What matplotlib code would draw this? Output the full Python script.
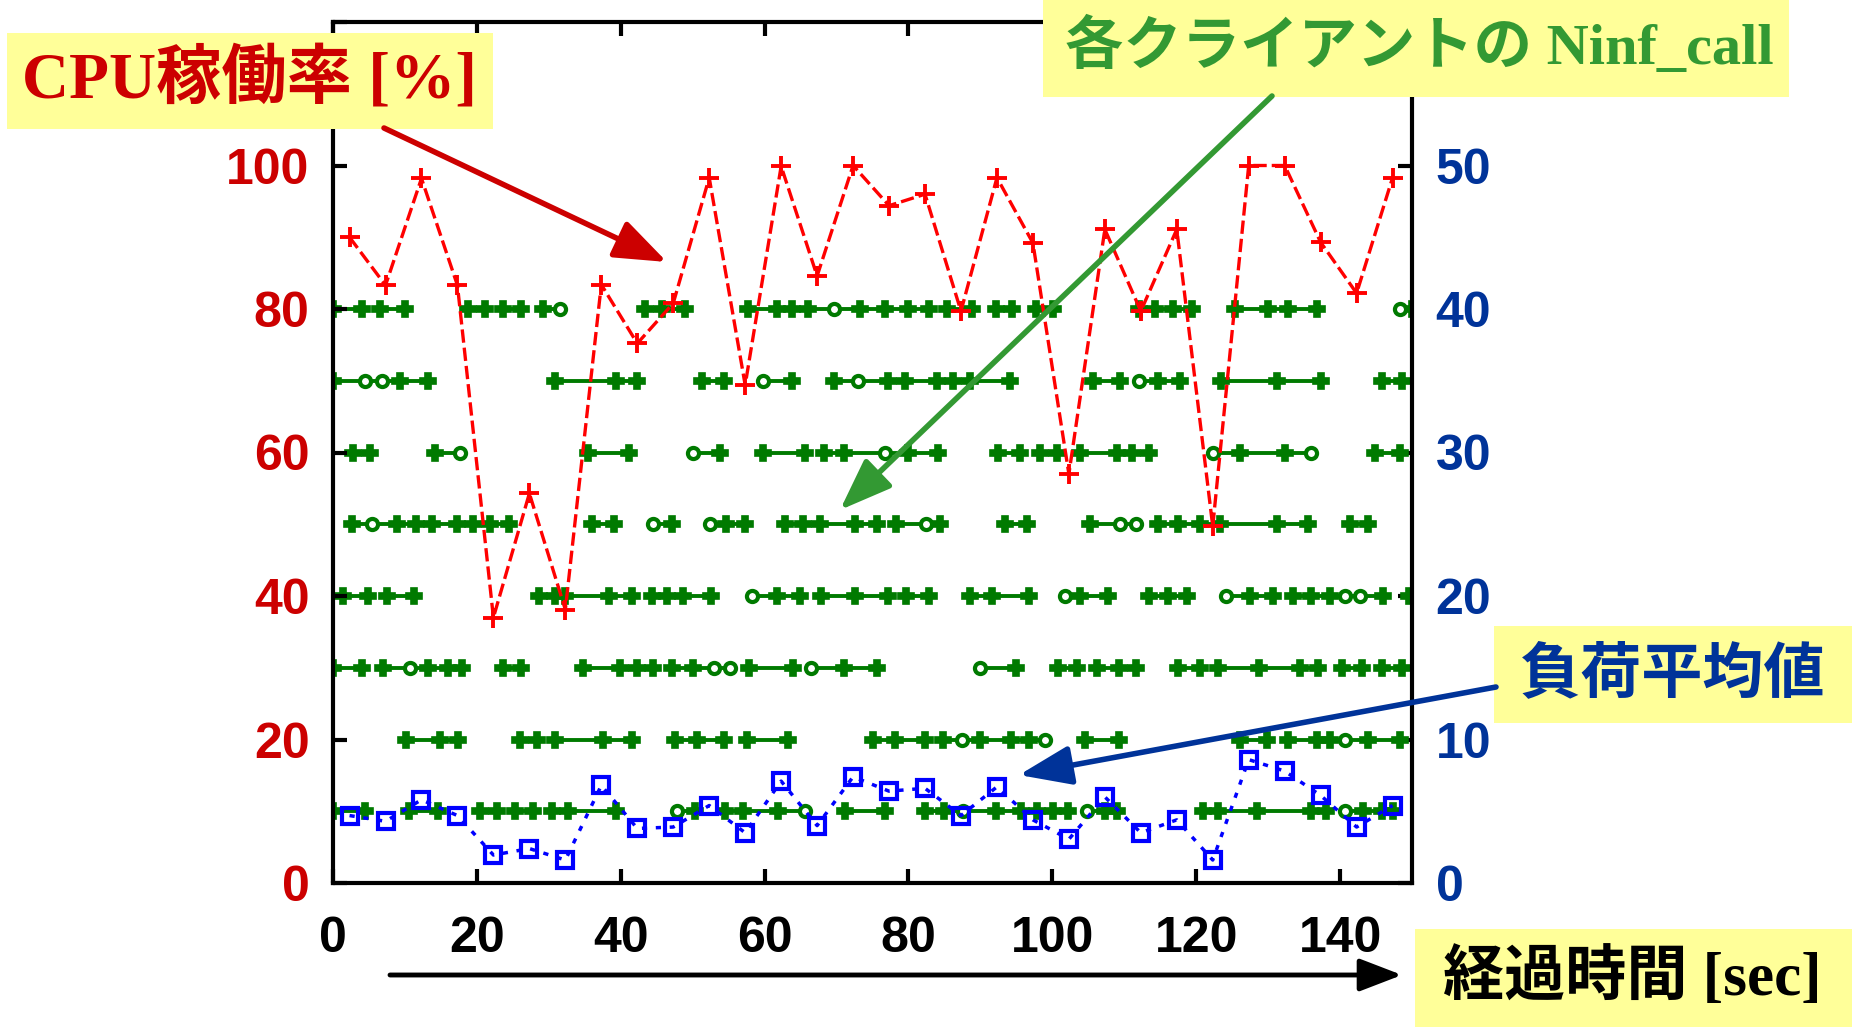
import matplotlib
matplotlib.use("Agg")
import matplotlib.pyplot as plt
from matplotlib.patches import Rectangle, FancyArrowPatch

# ---- measured data -------------------------------------------------------
# sampling times of the monitoring probes [sec]
times = [2.3, 7.3, 12.3, 17.3, 22.3, 27.3, 32.3, 37.3, 42.3, 47.3,
         52.3, 57.3, 62.3, 67.3, 72.3, 77.3, 82.3, 87.3, 92.3, 97.3,
         102.3, 107.3, 112.3, 117.3, 122.3, 127.3, 132.3, 137.3, 142.3, 147.3]

# server CPU usage [%] (left axis)
cpu_usage = [90, 83.3, 98.2, 83.3, 37, 54.3, 38.1, 83.4, 75.2, 80.8,
             98.3, 69.4, 99.9, 84.6, 100, 94.4, 96, 79.7, 98.3, 89.2,
             57, 91.1, 79.7, 91.1, 49.7, 100, 100, 89.3, 82.2, 98.3]

# server load average (right axis)
load_avg = [4.7, 4.3, 5.8, 4.7, 1.95, 2.4, 1.6, 6.8, 3.8, 3.9,
            5.4, 3.5, 7.1, 4.0, 7.4, 6.4, 6.6, 4.7, 6.7, 4.4,
            3.05, 6.0, 3.5, 4.4, 1.6, 8.6, 7.8, 6.1, 3.9, 5.4]

# one row per client (right-axis level); each run is a chain of Ninf_call events
client_levels = [40, 35, 30, 25, 20, 15, 10, 5]

client_calls = [
    [[0, 4.0], [6.5, 10.0], [18.8, 21.1], [23.7, 26.2], [29.2, 31.6],
     [43.4, 45.7, 48.9], [57.7, 61.7, 63.8, 66.1, 69.6, 73.3, 76.8, 80.0, 82.8],
     [85.4, 88.9], [92.1, 94.4], [97.7, 100.1], [112.0, 114.3, 116.8, 119.4],
     [125.4, 130.0, 132.8, 136.8], [148.3, 150.0]],
    [[0, 4.45, 6.8, 9.3, 13.25], [30.9, 39.4, 42.2], [51.3, 54.3], [59.8, 63.8],
     [69.6, 73.0, 77.2, 79.5, 83.9], [86.2, 88.6, 94.1], [105.7, 109.4],
     [112.0, 114.7, 117.7], [123.5, 131.2, 137.4], [145.8, 148.6]],
    [[2.8, 5.1], [14.2, 17.65], [35.5, 41.1], [50.1, 53.8], [59.8, 65.6],
     [68.2, 71.0, 76.7, 79.9, 84.1], [92.5, 95.5], [98.3, 100.6],
     [103.9, 109.0, 111.1, 113.4], [122.4, 126.1, 132.4, 135.9], [144.9, 148.4]],
    [[2.6, 5.4, 8.85, 11.6, 13.7, 17.2, 19.5], [21.8, 24.4], [36.0, 39.0],
     [44.5, 47.1], [52.4, 54.7, 57.3], [62.8, 65.4, 67.7, 72.6, 75.6],
     [78.3, 82.5, 84.4], [93.4, 96.5], [105.2, 109.4, 111.7],
     [114.7, 117.5, 120.5, 123.3, 131.2, 135.6], [141.4, 143.9]],
    [[1.4, 4.9], [7.5, 11.2], [28.6, 30.9, 32.3, 38.3, 41.5], [44.3, 46.5, 48.7, 52.6],
     [58.2, 61.7, 64.9], [67.9, 72.6, 77.2], [79.7, 82.8], [88.6, 91.6, 96.7],
     [101.8, 103.9, 107.8], [113.4, 116.1, 118.7], [124.2, 127.5, 130.7],
     [133.5, 136.0, 138.6, 140.7, 142.8, 146.0], [149.6]],
    [[0, 4.0], [7.0, 10.7, 13.25, 16.0, 17.9], [23.7, 26.2], [34.8, 39.9, 42.2, 44.5],
     [47.1, 50.0, 52.9, 55.2], [57.9, 63.9], [66.5, 71.0, 75.6], [90.0, 95.0],
     [100.8, 103.4], [106.2, 109.2, 111.7], [117.5, 120.5],
     [123.1, 128.7, 134.4, 137.0], [140.2, 143.0], [145.8, 148.6]],
    [[10.2, 14.9, 17.4], [26.0, 28.3], [30.9, 37.6, 41.5], [47.5, 50.6, 54.3],
     [57.5, 63.3], [75.1, 78.1, 82.3], [84.8, 87.4, 89.9, 94.3, 96.7, 99.0],
     [104.5, 109.2], [126.1, 129.8], [132.8, 136.8, 138.6, 140.7, 143.9, 148.4]],
    [[0, 4.45], [10.5, 14.6], [20.4, 22.8], [25.3, 27.8], [30.4, 32.7, 39.4],
     [47.8, 50.3], [54.5, 57.0, 61.9, 65.6], [71.2, 76.7],
     [82.3, 84.9, 87.6, 92.2, 95.6, 97.8, 100.1, 102.2], [104.8, 107.3, 109.0],
     [121.0, 123.1, 128.4, 136.0, 138.1], [140.7, 143.2, 145.8, 147.4]],
]

# events drawn with an open circle instead of a cross
client_circles = [
    [31.6, 69.6, 148.3],
    [4.45, 6.8, 59.8, 73.0, 112.0],
    [17.65, 50.1, 76.7, 122.4, 135.9],
    [5.4, 44.5, 52.4, 82.5, 109.4, 111.7],
    [58.2, 101.8, 124.2, 140.7, 142.8],
    [10.7, 52.9, 55.2, 66.5, 90.0],
    [87.4, 99.0, 140.7],
    [47.8, 65.6, 87.6, 104.8, 140.7],
]

x_ticks = [0, 20, 40, 60, 80, 100, 120, 140]
cpu_ticks = [0, 20, 40, 60, 80, 100, 120]
cpu_tick_labels = ["0", "20", "40", "60", "80", "100", ""]
load_ticks = [0, 10, 20, 30, 40, 50, 60]
load_tick_labels = ["0", "10", "20", "30", "40", "50", ""]

# ---- style ---------------------------------------------------------------
RED = "#CC0000"
NAVY = "#003399"
GREEN_TXT = "#339933"
GREEN = "#007A00"
BLUE = "#0000FF"
YELLOW = "#FFFF99"
SANS = ["Liberation Sans", "Noto Sans CJK JP"]
SERIF_JP = ["Liberation Serif", "Noto Sans CJK JP"]

plt.rcParams["font.family"] = SANS
plt.rcParams["font.weight"] = "bold"

W, H = 1852, 1027
fig = plt.figure(figsize=(W / 100, H / 100), dpi=100)


def fx(px):
    return px / W


def fy(py):
    return 1 - py / H


ax = fig.add_axes([fx(333), fy(883), (1412 - 333) / W, (883 - 22) / H])
ax2 = ax.twinx()
ax.set_zorder(ax2.get_zorder() + 1)
ax.patch.set_visible(False)

# client Ninf_call chains
for level, runs, circles in zip(client_levels, client_calls, client_circles):
    for run in runs:
        ys = [level] * len(run)
        ax2.plot(run, ys, color=GREEN, lw=2.8, zorder=2)
        crosses = [t for t in run if t not in circles]
        rings = [t for t in run if t in circles]
        ax2.plot(crosses, [level] * len(crosses), ls="none", marker="P",
                 ms=11, color=GREEN, mec=GREEN, mew=1.2, zorder=3)
        ax2.plot(rings, [level] * len(rings), ls="none", marker="o",
                 ms=8, mfc="white", mec=GREEN, mew=3, zorder=3)

# load average
ax2.plot(times, load_avg, color=BLUE, lw=2.5, ls=(0, (1.5, 2.5)),
         marker="s", ms=11, mfc="none", mec=BLUE, mew=3, zorder=4)

# CPU usage
ax.plot(times, cpu_usage, color="#FF0000", lw=2.4, ls=(0, (4, 1.5)),
        marker="+", ms=15, mew=2.8, zorder=5)

ax.set_xlim(0, 150)
ax.set_ylim(0, 120)
ax2.set_ylim(0, 60)

ax.set_xticks(x_ticks)
ax.set_yticks(cpu_ticks)
ax.set_yticklabels(cpu_tick_labels)
ax2.set_yticks(load_ticks)
ax2.set_yticklabels(load_tick_labels)

ax.tick_params(axis="x", direction="in", length=10, width=3, top=True,
               pad=24, labelsize=36, labelcolor="black")
ax.tick_params(axis="y", direction="in", length=10, width=3,
               pad=17, labelsize=36, labelcolor=RED)
ax2.tick_params(axis="y", direction="in", length=10, width=3,
                pad=17, labelsize=36, labelcolor=NAVY)
for lab in ax.get_xticklabels() + ax.get_yticklabels() + ax2.get_yticklabels():
    lab.set_fontweight("bold")

for sp in ax.spines.values():
    sp.set_linewidth(3)
for sp in ax2.spines.values():
    sp.set_visible(False)


# ---- callouts ------------------------------------------------------------
def callout(x0, y0, x1, y1, text, color, cx, cy, size, family):
    fig.add_artist(Rectangle((fx(x0), fy(y1)), (x1 - x0) / W, (y1 - y0) / H,
                             transform=fig.transFigure, facecolor=YELLOW,
                             edgecolor="none", zorder=5))
    fig.text(fx(cx), fy(cy), text, color=color, fontsize=size,
             fontweight="bold", family=family, ha="center", va="center",
             zorder=7)


def arrow(x0, y0, x1, y1, color, lw, hl, hw):
    fig.add_artist(FancyArrowPatch(
        (fx(x0), fy(y0)), (fx(x1), fy(y1)), transform=fig.transFigure,
        arrowstyle=f"-|>,head_length={hl},head_width={hw}", mutation_scale=20,
        lw=lw, color=color, shrinkA=0, shrinkB=0, zorder=6))


arrow(384, 128, 667, 262, RED, 4, 1.6, 0.6)
arrow(1272, 96, 840, 510, GREEN_TXT, 4, 1.6, 0.6)
arrow(1496, 687, 1019, 775, NAVY, 4, 1.6, 0.6)
arrow(390, 975, 1402, 975, "black", 3.5, 1.3, 0.5)

callout(7, 33, 493, 129, "CPU稼働率 [%]", RED, 250, 80, 47, SERIF_JP)
callout(1043, 0, 1789, 97, "各クライアントの Ninf_call", GREEN_TXT, 1419, 47, 42, SERIF_JP)
callout(1494, 626, 1852, 723, "負荷平均値", NAVY, 1673, 676, 44, SERIF_JP)
callout(1415, 929, 1852, 1027, "経過時間 [sec]", "black", 1632, 978, 44, SERIF_JP)

fig.savefig("out.png", dpi=100)
